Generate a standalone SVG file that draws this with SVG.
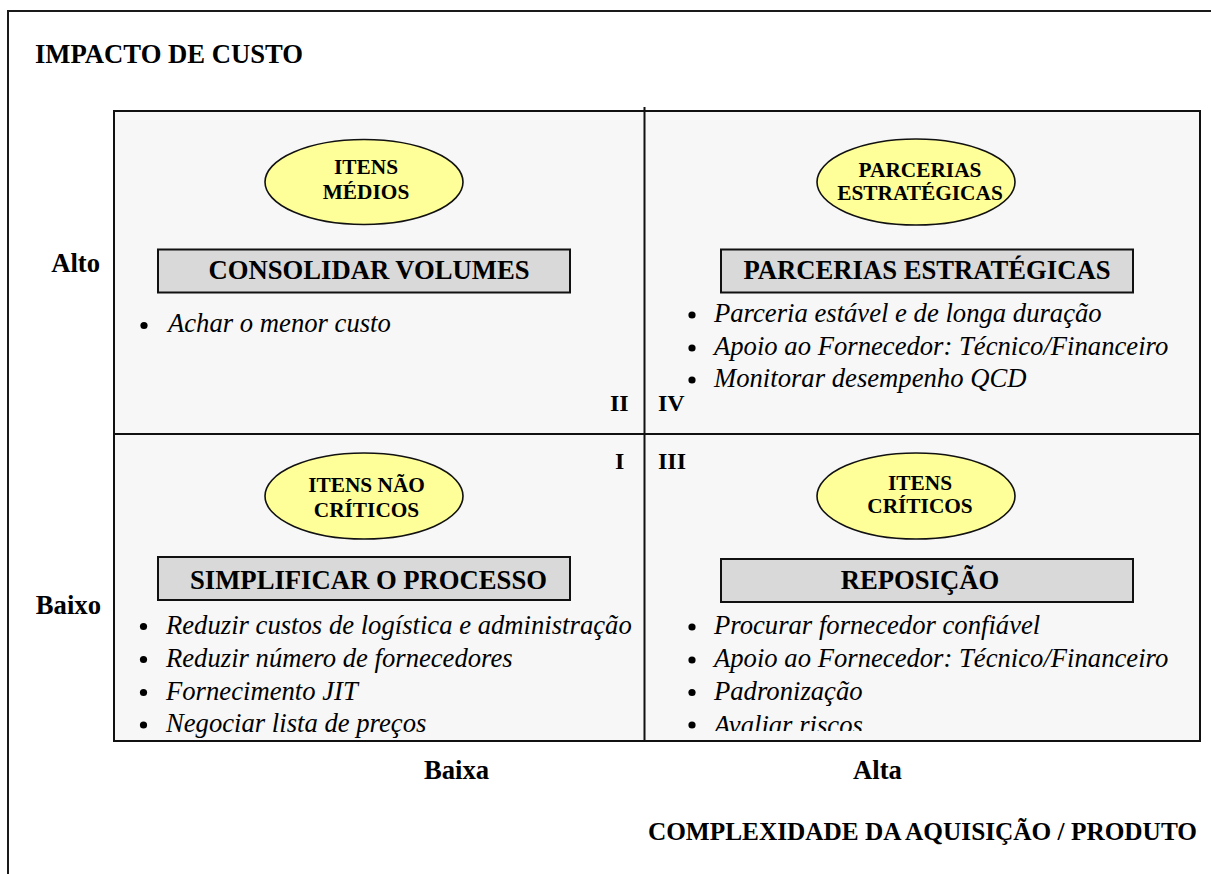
<svg xmlns="http://www.w3.org/2000/svg" width="1211" height="874" viewBox="0 0 1211 874">
  <style>
    .frame { fill: none; stroke: #1a1a1a; stroke-width: 2; }
    .grid { fill: #f7f7f7; stroke: #111; stroke-width: 2; }
    .div { stroke: #111; stroke-width: 2; }
    .oval { fill: #ffff99; stroke: #111; stroke-width: 1.6; }
    .bar { fill: #d9d9d9; stroke: #111; stroke-width: 2; }
    .t { font-family: "Liberation Serif", "Times New Roman", serif; fill: #000; }
    .h { font-size: 26.67px; font-weight: bold; }
    .o { font-size: 21.33px; font-weight: bold; text-anchor: middle; }
    .q { font-size: 24px; font-weight: bold; }
    .b { font-size: 26.67px; font-style: italic; }
    .dot { fill: #000; }
  </style>
  <defs>
    <clipPath id="clip-q3">
      <rect x="645" y="435" width="554" height="296"/>
    </clipPath>
  </defs>

  <rect width="1211" height="874" fill="#ffffff"/>

  <!-- outer frame: only its top and left sides fall on the page -->
  <path class="frame" d="M8,874 V11 H1211"/>

  <text class="t h" x="35" y="63">IMPACTO DE CUSTO</text>

  <!-- axis labels -->
  <g id="axis-y">
    <text class="t h" x="100" y="272" text-anchor="end">Alto</text>
    <text class="t h" x="101" y="614" text-anchor="end">Baixo</text>
  </g>
  <g id="axis-x">
    <text class="t h" x="424" y="779">Baixa</text>
    <text class="t h" x="853" y="779">Alta</text>
    <text class="t h" x="1197" y="840" text-anchor="end" style="font-size:25.3px">COMPLEXIDADE DA AQUISIÇÃO / PRODUTO</text>
  </g>

  <!-- matrix and dividers -->
  <g id="connectors">
    <rect class="grid" x="114" y="111" width="1086" height="630"/>
    <line class="div" x1="644.5" y1="107" x2="644.5" y2="741"/>
    <line class="div" x1="114" y1="434" x2="1200" y2="434"/>
  </g>

  <!-- quadrant II -->
  <g id="quadrant-ii">
    <ellipse class="oval" cx="364" cy="182" rx="99" ry="42.5"/>
    <text class="t o" x="366" y="174">ITENS</text>
    <text class="t o" x="366" y="199">MÉDIOS</text>
    <rect class="bar" x="158" y="249.5" width="412" height="43"/>
    <text class="t h" x="369" y="279" text-anchor="middle">CONSOLIDAR VOLUMES</text>
    <circle class="dot" cx="144" cy="325.5" r="3.6"/>
    <text class="t b" x="168" y="332">Achar o menor custo</text>
    <text class="t q" x="610" y="411">II</text>
  </g>

  <!-- quadrant IV -->
  <g id="quadrant-iv">
    <ellipse class="oval" cx="916" cy="182" rx="99" ry="43"/>
    <text class="t o" x="920" y="177">PARCERIAS</text>
    <text class="t o" x="920" y="200">ESTRATÉGICAS</text>
    <rect class="bar" x="721" y="249.5" width="412" height="43"/>
    <text class="t h" x="927" y="279" text-anchor="middle">PARCERIAS ESTRATÉGICAS</text>
    <circle class="dot" cx="692" cy="315" r="3.6"/>
    <text class="t b" x="714" y="322">Parceria estável e de longa duração</text>
    <circle class="dot" cx="692" cy="348" r="3.6"/>
    <text class="t b" x="714" y="355">Apoio ao Fornecedor: Técnico/Financeiro</text>
    <circle class="dot" cx="692" cy="380" r="3.6"/>
    <text class="t b" x="714" y="387">Monitorar desempenho QCD</text>
    <text class="t q" x="658" y="411">IV</text>
  </g>

  <!-- quadrant I -->
  <g id="quadrant-i">
    <text class="t q" x="615" y="469">I</text>
    <ellipse class="oval" cx="364" cy="496" rx="99" ry="43"/>
    <text class="t o" x="366.5" y="492">ITENS NÃO</text>
    <text class="t o" x="366.5" y="517">CRÍTICOS</text>
    <rect class="bar" x="158" y="557" width="412" height="43"/>
    <text class="t h" x="368.5" y="589" text-anchor="middle">SIMPLIFICAR O PROCESSO</text>
    <circle class="dot" cx="143.5" cy="626.5" r="3.6"/>
    <text class="t b" x="166" y="633.5">Reduzir custos de logística e administração</text>
    <circle class="dot" cx="143.5" cy="659.5" r="3.6"/>
    <text class="t b" x="166" y="666.5">Reduzir número de fornecedores</text>
    <circle class="dot" cx="143.5" cy="692.5" r="3.6"/>
    <text class="t b" x="166" y="699.5">Fornecimento JIT</text>
    <circle class="dot" cx="143.5" cy="725" r="3.6"/>
    <text class="t b" x="166" y="732">Negociar lista de preços</text>
  </g>

  <!-- quadrant III -->
  <g id="quadrant-iii">
    <text class="t q" x="658" y="469">III</text>
    <ellipse class="oval" cx="916" cy="496" rx="99" ry="43"/>
    <text class="t o" x="920" y="490">ITENS</text>
    <text class="t o" x="920" y="513">CRÍTICOS</text>
    <rect class="bar" x="721" y="559" width="412" height="43"/>
    <text class="t h" x="920" y="589" text-anchor="middle">REPOSIÇÃO</text>
    <g clip-path="url(#clip-q3)">
      <circle class="dot" cx="692" cy="627" r="3.6"/>
      <text class="t b" x="714" y="634">Procurar fornecedor confiável</text>
      <circle class="dot" cx="692" cy="660" r="3.6"/>
      <text class="t b" x="714" y="667">Apoio ao Fornecedor: Técnico/Financeiro</text>
      <circle class="dot" cx="692" cy="692.5" r="3.6"/>
      <text class="t b" x="714" y="699.5">Padronização</text>
      <circle class="dot" cx="692" cy="725" r="3.6"/>
      <text class="t b" x="714" y="734">Avaliar riscos</text>
    </g>
  </g>
</svg>
